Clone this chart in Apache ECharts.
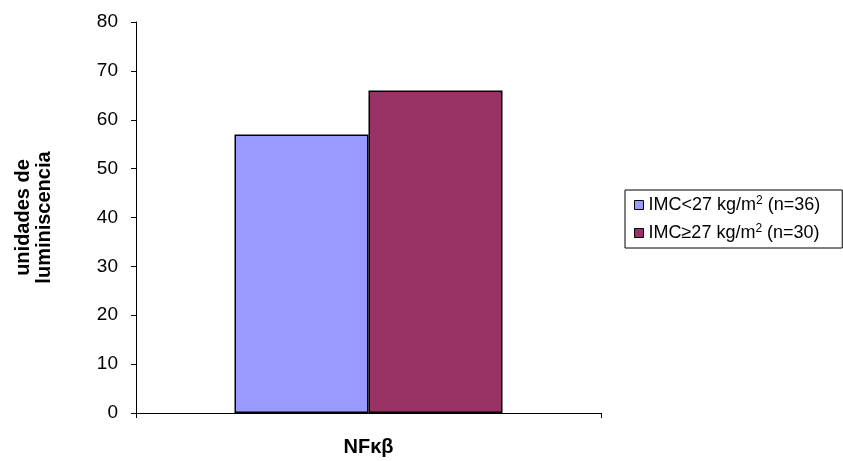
<!DOCTYPE html>
<html><head><meta charset="utf-8">
<script src="https://cdn.jsdelivr.net/npm/echarts@6/dist/echarts.min.js"></script>
<style>html,body{margin:0;padding:0;background:#fff}#c{width:843px;height:461px}</style>
</head><body><div id="c"></div>
<script>
const categories = ['NFκβ'];
const seriesNames = ['IMC<27 kg/m2 (n=36)', 'IMC≥27 kg/m2 (n=30)'];
const legendRich = ['IMC<27 kg/m{s|2} (n=36)', 'IMC≥27 kg/m{s|2} (n=30)'];
const lowBMI = [57];
const highBMI = [66];
const colors = ['#9999FF', '#993366'];
const yTicks = [0, 10, 20, 30, 40, 50, 60, 70, 80];

const font = 'Liberation Sans, Arial, sans-serif';
const chart = echarts.init(document.getElementById('c'));
chart.setOption({
  animation: false,
  grid: { left: 136, right: 242, top: 22, bottom: 48, containLabel: false, outerBoundsMode: 'none' },
  legend: {
    orient: 'vertical', left: 625, top: 190,
    padding: [5, 22, 5, 9], itemGap: 8,
    borderColor: '#000', borderWidth: 1,
    itemWidth: 9, itemHeight: 9, icon: 'rect',
    itemStyle: { borderColor: '#000', borderWidth: 1 },
    data: seriesNames,
    formatter: function (n) { return legendRich[seriesNames.indexOf(n)]; },
    textStyle: { fontFamily: font, fontSize: 18, color: '#000', lineHeight: 20,
      rich: { s: { fontFamily: font, fontSize: 12, verticalAlign: 'top', lineHeight: 12, color: '#000' } } }
  },
  xAxis: {
    type: 'category', data: categories,
    name: 'NFκβ', nameLocation: 'middle', nameGap: 24,
    nameTextStyle: { fontFamily: font, fontSize: 20, fontWeight: 'bold', color: '#000' },
    axisLine: { lineStyle: { color: '#000', width: 1 } },
    axisTick: { show: true, length: 5, lineStyle: { color: '#000' } },
    axisLabel: { show: false }
  },
  yAxis: {
    type: 'value', min: 0, max: 80, interval: 10,
    name: 'unidades de\nluminiscencia', nameLocation: 'middle', nameGap: 81, nameRotate: 90,
    nameTextStyle: { fontFamily: font, fontSize: 20, fontWeight: 'bold', color: '#000', lineHeight: 21 },
    axisLine: { show: true, lineStyle: { color: '#000', width: 1 } },
    axisTick: { show: true, length: 5, lineStyle: { color: '#000' } },
    axisLabel: { fontFamily: font, fontSize: 19, color: '#000', margin: 18,
      formatter: function (v) { return yTicks.indexOf(v) >= 0 ? String(v) : ''; } },
    splitLine: { show: false }
  },
  series: [
    { name: seriesNames[0], type: 'bar', data: lowBMI, barWidth: 134, barGap: '0%',
      itemStyle: { color: colors[0], borderColor: '#000', borderWidth: 1.5 } },
    { name: seriesNames[1], type: 'bar', data: highBMI, barWidth: 134, barGap: '0%',
      itemStyle: { color: colors[1], borderColor: '#000', borderWidth: 1.5 } }
  ]
});
</script></body></html>
